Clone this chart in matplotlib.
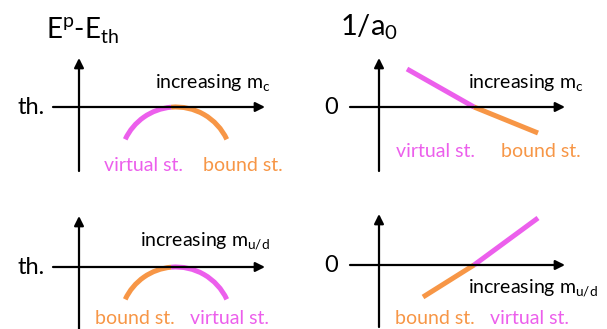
import matplotlib
matplotlib.use('Agg')
import matplotlib.pyplot as plt
from matplotlib.patches import Arc

plt.rcParams['font.family'] = ['Lato', 'DejaVu Sans']

W, H = 607, 329
MAG = '#EC5FEC'
ORA = '#F79646'

# schematic data, in pixel-sized units from the crossing of the axes
# arcs: centre x, centre y, radius, (magenta/orange split angle)
arc_center = [97, -56]
arc_radius = 56
arc_theta = [25, 95, 155]

# straight lines for 1/a0
line_c_virtual_x = [28, 95]
line_c_virtual_y = [38, 0]
line_c_bound_x = [95, 159]
line_c_bound_y = [0, -26]
line_ud_bound_x = [44, 95]
line_ud_bound_y = [-32, 0]
line_ud_virtual_x = [95, 159]
line_ud_virtual_y = [0, 47]

fig = plt.figure(figsize=(W / 100, H / 100), dpi=100)


def panel(px0, py0, pw, ph, ox, oy):
    ax = fig.add_axes([px0 / W, 1 - (py0 + ph) / H, pw / W, ph / H])
    ax.set_xlim(px0 - ox, px0 + pw - ox)
    ax.set_ylim(oy - (py0 + ph), oy - py0)
    ax.axis('off')
    return ax


def axes_arrows(ax, x0, x1, y0, y1):
    ap = dict(arrowstyle='-|>', lw=1.6, color='k', mutation_scale=14,
              shrinkA=0, shrinkB=0)
    ax.annotate('', xy=(x1, 0), xytext=(x0, 0), arrowprops=ap)
    ax.annotate('', xy=(0, y1), xytext=(0, y0), arrowprops=ap)


fs = 14
fs_tick = 17
fs_title = 20

# top left
ax1 = panel(0, 0, 300, 175, 79, 107)
axes_arrows(ax1, -26, 186, -64, 49)
ax1.add_patch(Arc(arc_center, 2 * arc_radius, 2 * arc_radius,
                  theta1=arc_theta[1], theta2=arc_theta[2], color=MAG, lw=3.6))
ax1.add_patch(Arc(arc_center, 2 * arc_radius, 2 * arc_radius,
                  theta1=arc_theta[0], theta2=arc_theta[1], color=ORA, lw=3.6))
ax1.text(-33, 68, r'E$^\mathregular{p}$-E$_\mathregular{th}$', fontsize=fs_title,
         va='baseline')
ax1.text(-34, 0, 'th.', fontsize=fs_tick, ha='right', va='center')
ax1.text(76, 18, r'increasing m$_\mathregular{c}$', fontsize=fs, va='baseline')
ax1.text(25, -64, 'virtual st.', color=MAG, fontsize=fs, va='baseline')
ax1.text(124, -64, 'bound st.', color=ORA, fontsize=fs, va='baseline')

# top right
ax2 = panel(300, 0, 307, 175, 379, 107)
axes_arrows(ax2, -29, 186, -64, 49)
ax2.plot(line_c_virtual_x, line_c_virtual_y, color=MAG, lw=3.6,
         solid_capstyle='butt')
ax2.plot(line_c_bound_x, line_c_bound_y, color=ORA, lw=3.6,
         solid_capstyle='butt')
ax2.text(-39, 72, r'1/a$_\mathregular{0}$', fontsize=fs_title + 1, va='baseline')
ax2.text(-41, 0, '0', fontsize=fs_tick, ha='right', va='center')
ax2.text(89, 18, r'increasing m$_\mathregular{c}$', fontsize=fs, va='baseline')
ax2.text(17, -50, 'virtual st.', color=MAG, fontsize=fs, va='baseline')
ax2.text(122, -50, 'bound st.', color=ORA, fontsize=fs, va='baseline')

# bottom left
ax3 = panel(0, 175, 300, 154, 79, 267)
axes_arrows(ax3, -26, 186, -62, 51)
ax3.add_patch(Arc(arc_center, 2 * arc_radius, 2 * arc_radius,
                  theta1=arc_theta[1], theta2=arc_theta[2], color=ORA, lw=3.6))
ax3.add_patch(Arc(arc_center, 2 * arc_radius, 2 * arc_radius,
                  theta1=arc_theta[0], theta2=arc_theta[1], color=MAG, lw=3.6))
ax3.text(-34, 0, 'th.', fontsize=fs_tick, ha='right', va='center')
ax3.text(61, 21, r'increasing m$_\mathregular{u/d}$', fontsize=fs, va='baseline')
ax3.text(16, -57, 'bound st.', color=ORA, fontsize=fs, va='baseline')
ax3.text(111, -57, 'virtual st.', color=MAG, fontsize=fs, va='baseline')

# bottom right
ax4 = panel(300, 175, 307, 154, 379, 265)
axes_arrows(ax4, -29, 186, -62, 51)
ax4.plot(line_ud_bound_x, line_ud_bound_y, color=ORA, lw=3.6,
         solid_capstyle='butt')
ax4.plot(line_ud_virtual_x, line_ud_virtual_y, color=MAG, lw=3.6,
         solid_capstyle='butt')
ax4.text(-41, 0, '0', fontsize=fs_tick, ha='right', va='center')
ax4.text(89, -28, r'increasing m$_\mathregular{u/d}$', fontsize=fs, va='baseline')
ax4.text(16, -59, 'bound st.', color=ORA, fontsize=fs, va='baseline')
ax4.text(111, -59, 'virtual st.', color=MAG, fontsize=fs, va='baseline')

fig.savefig('out.png', dpi=100)
